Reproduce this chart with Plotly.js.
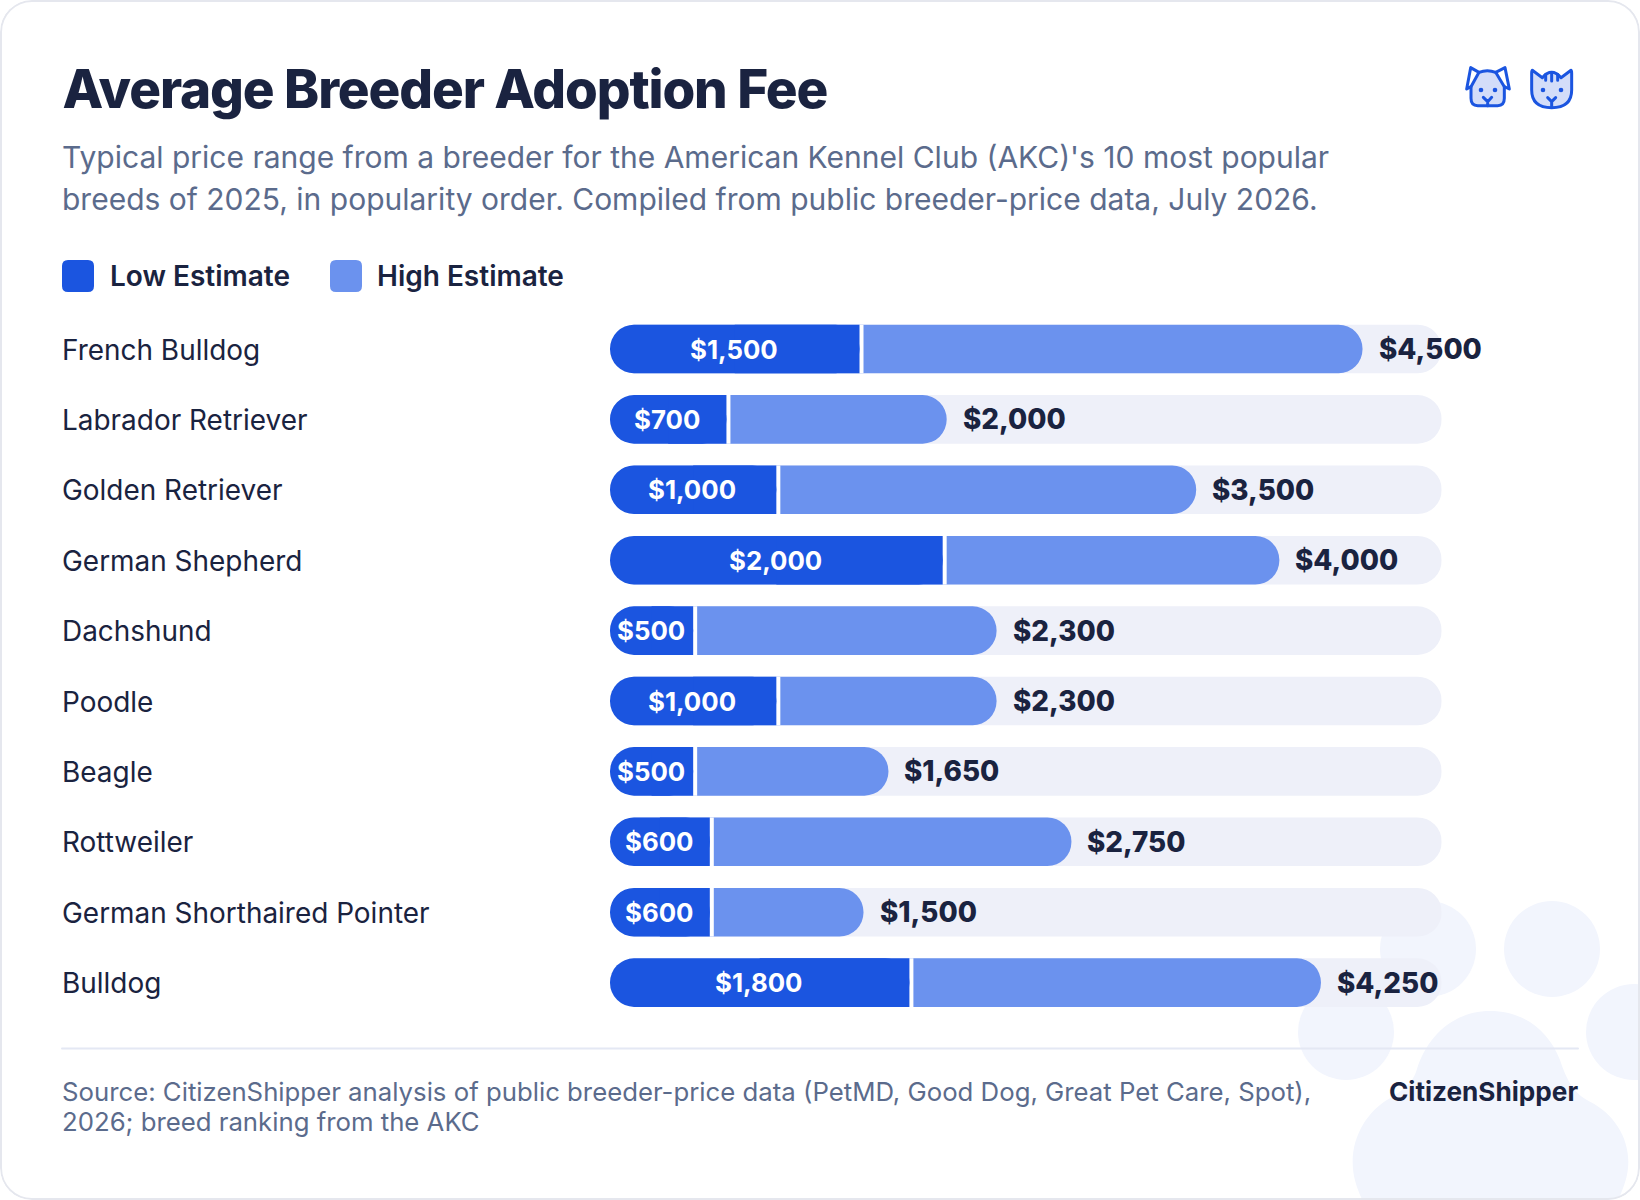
<!DOCTYPE html>
<html>
<head>
<meta charset="utf-8">
<title>Average Breeder Adoption Fee</title>
<script src="https://cdn.plot.ly/plotly-3.0.1.min.js"></script>
<style>
  html, body { margin: 0; padding: 0; background: #fff; }
  #card { position: relative; width: 1640px; height: 1200px; overflow: hidden; border-radius: 32px; }
  #card:after { content: ""; position: absolute; inset: 0; border: 2px solid #e5e7ee; border-radius: 32px; pointer-events: none; }
  .shapelayer path { stroke-linejoin: round; stroke-linecap: round; }
  .annotation[data-index="0"] .annotation-text { letter-spacing: -1.11px; }
</style>
</head>
<body>
<div id="card"><div id="chart"></div></div>
<script>
const breeds = ['French Bulldog', 'Labrador Retriever', 'Golden Retriever', 'German Shepherd', 'Dachshund',
  'Poodle', 'Beagle', 'Rottweiler', 'German Shorthaired Pointer', 'Bulldog'];
const lowValues = [1500, 700, 1000, 2000, 500, 1000, 500, 600, 600, 1800];
const highValues = [4500, 2000, 3500, 4000, 2300, 2300, 1650, 2750, 1500, 4250];
const axisMax = 5000;

const W = 1640, H = 1200;
const BLUE = '#1b55e0', LIGHT = '#6b92ee', TRACK = '#eef0f9', PAW = '#f2f5fd', INK = '#1a2340', MUTED = '#5b6b8c';
const GAP = 24; // white slit between the two segments, in dollars
const RADIUS = 24;

const money = v => '$' + v.toLocaleString('en-US');
const px = x => x / W;
const py = y => 1 - y / H;
const zeros = breeds.map(() => 0);

function barTrace(x, base, color, radius) {
  const t = { type: 'bar', orientation: 'h', y: breeds, x: x, base: base, marker: { color: color }, width: 0.69,
    hoverinfo: 'skip', showlegend: false, cliponaxis: false };
  if (radius) t.marker.cornerradius = radius;
  return t;
}

// a bar with a base rounds both ends, so the ends that must stay square get covered:
// track, high bar, white mask up to the slit, low bar, then a square patch on the low bar's right half
const traces = [
  barTrace(breeds.map(() => axisMax), zeros, TRACK, RADIUS),
  barTrace(highValues.map(v => v + GAP), zeros, LIGHT, RADIUS),
  barTrace(lowValues.map(v => v + GAP), zeros, '#fff', 0),
  barTrace(lowValues, zeros, BLUE, RADIUS),
  barTrace(lowValues.map(v => v / 2), lowValues.map(v => v / 2), BLUE, 0)
];

function label(text, x, y, size, weight, color, anchor) {
  return { text: text, xref: 'paper', yref: 'paper', x: px(x), y: py(y), xanchor: anchor || 'left', yanchor: 'middle',
    showarrow: false, borderpad: 0, borderwidth: 0, font: { family: 'Inter', size: size, weight: weight, color: color } };
}

const annotations = [
  label('Average Breeder Adoption Fee', 46.5, 89, 53, 800, INK),
  label("Typical price range from a breeder for the American Kennel Club (AKC)'s 10 most popular", 61.5, 157, 30, 400, MUTED),
  label('breeds of 2025, in popularity order. Compiled from public breeder-price data, July 2026.', 61.5, 199, 30, 400, MUTED),
  label('Low Estimate', 110, 276, 28, 600, INK),
  label('High Estimate', 377, 276, 28, 600, INK),
  label('Source: CitizenShipper analysis of public breeder-price data (PetMD, Good Dog, Great Pet Care, Spot),', 62, 1091, 25.75, 400, MUTED),
  label('2026; breed ranking from the AKC', 62, 1121, 25.75, 400, MUTED),
  label('CitizenShipper', 1578, 1091, 26.15, 700, INK, 'right')
];
breeds.forEach((b, i) => {
  annotations.push({ text: b, xref: 'paper', yref: 'y', x: px(60), y: b, xanchor: 'left', yanchor: 'middle', yshift: -0.5,
    showarrow: false, font: { family: 'Inter', size: 27.95, weight: 400, color: INK } });
  annotations.push({ text: money(lowValues[i]), xref: 'x', yref: 'y', x: lowValues[i] / 2, y: b, xanchor: 'center', xshift: -1, yanchor: 'middle',
    showarrow: false, font: { family: 'Inter', size: 25.8, weight: 700, color: '#fff' } });
  annotations.push({ text: money(highValues[i]), xref: 'x', yref: 'y', x: highValues[i] + GAP, y: b, xanchor: 'left', xshift: 14, yanchor: 'middle',
    showarrow: false, font: { family: 'Inter', size: 27.8, weight: 800, color: INK } });
});

function circle(cx, cy, r) {
  return { type: 'circle', xref: 'paper', yref: 'paper', layer: 'below', x0: px(cx - r), x1: px(cx + r), y0: py(cy - r), y1: py(cy + r),
    fillcolor: PAW, line: { width: 0 } };
}
// path written in page pixels, converted to paper fractions
function pixelPath(cmds, fill, layer, width) {
  const d = cmds.replace(/(-?[\d.]+),(-?[\d.]+)/g, (m, a, b) => px(+a) + ',' + py(+b));
  return { type: 'path', xref: 'paper', yref: 'paper', layer: layer || 'above', path: d, fillcolor: fill || 'rgba(0,0,0,0)',
    line: { color: BLUE, width: width === undefined ? 3 : width } };
}
// reference crops were read at 3x, so icon and paw outlines are noted in crop units
function crop(cmds, ox, oy) {
  return cmds.replace(/(-?[\d.]+),(-?[\d.]+)/g, (m, a, b) => (ox + a / 3).toFixed(2) + ',' + (oy + b / 3).toFixed(2));
}
function dot(cx, cy) {
  const x = 1455 + cx / 3, y = 55 + cy / 3, r = 2.3;
  return { type: 'circle', xref: 'paper', yref: 'paper', x0: px(x - r), x1: px(x + r), y0: py(y - r), y1: py(y + r), fillcolor: BLUE, line: { width: 0 } };
}
const ICON = (s, fill) => pixelPath(crop(s, 1455, 55), fill);

const shapes = [
  circle(1428, 949, 48), circle(1552, 949, 48), circle(1346, 1032, 48), circle(1634, 1032, 48),
  pixelPath(crop('M750,453 C640,453 560,530 530,630 C515,680 470,700 450,715 C385,750 338,825 338,905 C338,950 350,985 372,1030 L1130,1030 C1150,985 1165,950 1165,905 C1165,830 1120,760 1050,725 C1000,700 980,660 960,600 C925,510 850,453 750,453 Z', 1240, 860), PAW, 'below', 0),
  { type: 'line', xref: 'paper', yref: 'paper', layer: 'below', x0: px(62), x1: px(1578), y0: py(1048.5), y1: py(1048.5), line: { color: '#e4e8f4', width: 2 } },
  // legend swatches
  pixelPath('M68,260 L88,260 Q94,260 94,266 L94,286 Q94,292 88,292 L68,292 Q62,292 62,286 L62,266 Q62,260 68,260 Z', BLUE, 'above', 0),
  pixelPath('M336,260 L356,260 Q362,260 362,266 L362,286 Q362,292 356,292 L336,292 Q330,292 330,286 L330,266 Q330,260 336,260 Z', LIGHT, 'above', 0),
  // dog
  ICON('M48,95 L72,52 Q97,42 122,52 L148,95 L148,130 Q148,152 128,152 L68,152 Q48,152 48,130 Z', '#d3ddf9'),
  ICON('M72,52 L47,38 L35,102 L48,95'),
  ICON('M122,52 L150,38 L163,102 L148,95'),
  dot(78, 105), dot(120, 105),
  ICON('M85,127 L98,140 L110,127 M98,140 L98,152'),
  // cat
  ICON('M232,46 L262,68 Q290,36 318,68 L348,46 Q350,46 350,55 L350,105 Q350,158 290,158 Q230,158 230,105 L230,55 Q230,46 232,46 Z', '#d3ddf9'),
  ICON('M272,58 L272,76 M290,53 L290,78 M308,58 L308,76'),
  dot(264, 105), dot(318, 105),
  ICON('M278,128 L290,140 L302,128 M290,140 L290,155')
];

const layout = {
  width: W, height: H, margin: { l: 0, r: 0, t: 0, b: 0 }, paper_bgcolor: '#fff', plot_bgcolor: 'rgba(0,0,0,0)',
  barmode: 'overlay', showlegend: false,
  xaxis: { range: [0, axisMax], domain: [610 / W, 1441.7 / W], visible: false, fixedrange: true },
  yaxis: { type: 'category', categoryorder: 'array', categoryarray: breeds, autorange: 'reversed', domain: [1 - 1017.8 / H, 1 - 313.8 / H],
    visible: false, fixedrange: true },
  shapes: shapes, annotations: annotations
};

Plotly.newPlot('chart', traces, layout, { displayModeBar: false, staticPlot: true });
</script>
</body>
</html>
